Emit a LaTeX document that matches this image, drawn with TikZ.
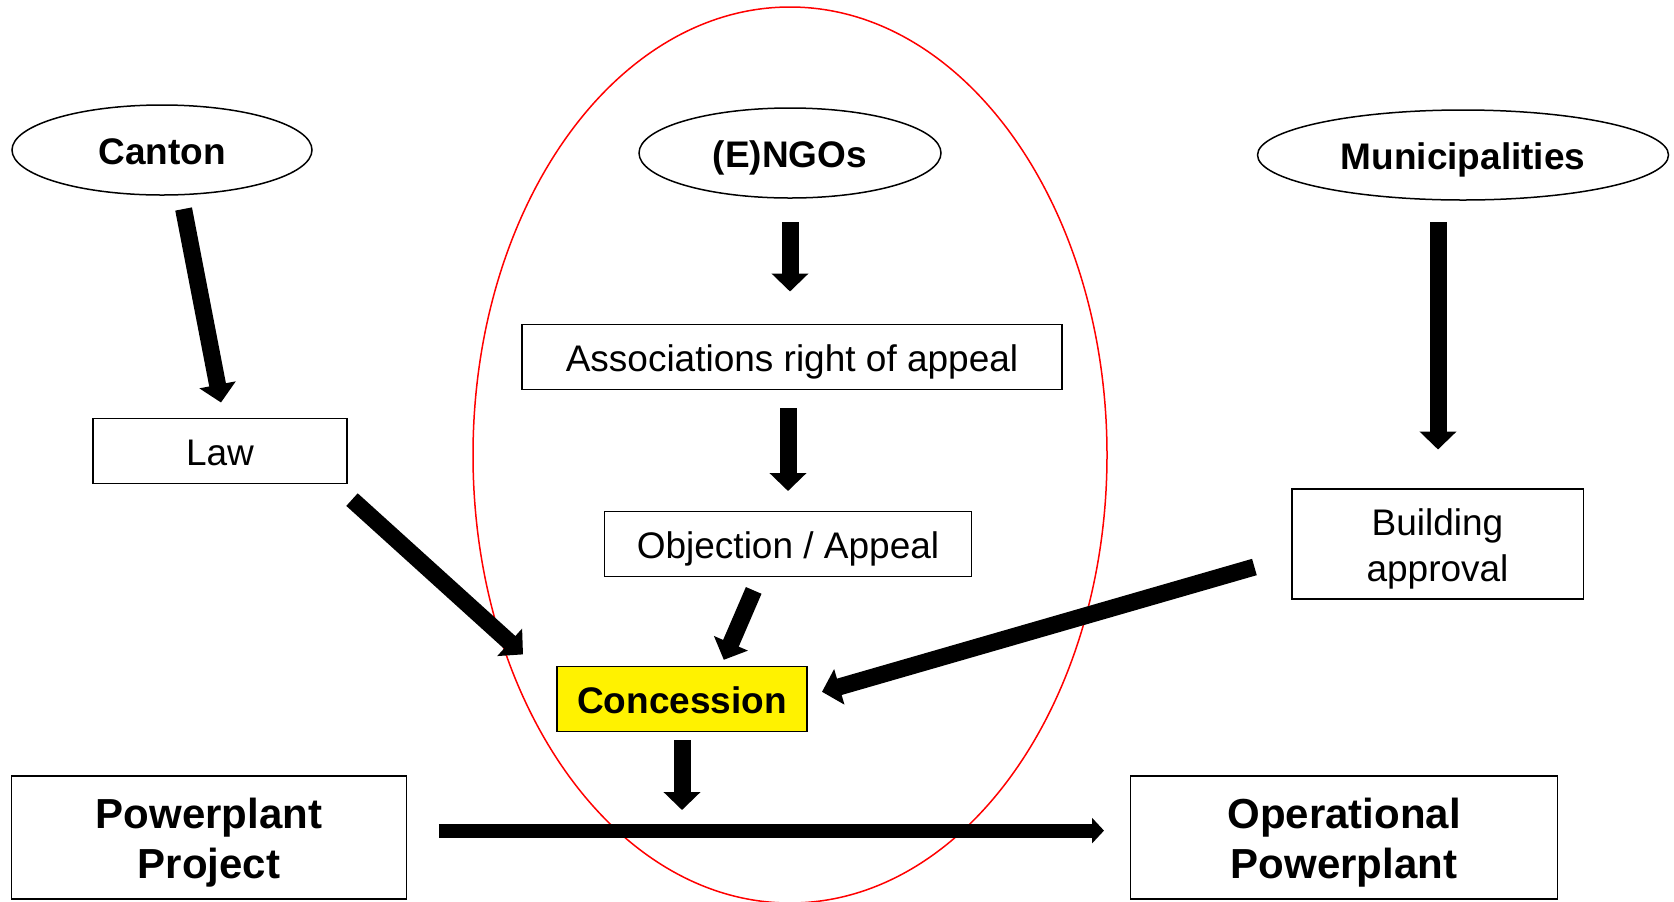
\documentclass[tikz,border=0pt]{standalone}
\usepackage{fontspec}
\setmainfont{Liberation Sans}
\usetikzlibrary{shapes.geometric,arrows.meta}
\tikzset{
  actor/.style={ellipse, draw, line width=0.75pt, inner sep=0pt, text height=14pt, text depth=0pt, font=\fontsize{18.5}{22.4}\selectfont\bfseries},
  box/.style={rectangle, draw, line width=0.75pt, inner sep=0pt, align=center, minimum height=32.5pt, text height=14pt, text depth=0pt, font=\fontsize{18.5}{23}\selectfont},
  bigbox/.style={rectangle, draw, line width=0.75pt, inner sep=0pt, align=center, minimum height=61.5pt, text height=40.5pt, text depth=0pt, font=\fontsize{21}{25}\selectfont\bfseries},
  blockarrow/.style={line width=8.5pt, -{Triangle[width=18pt,length=9pt]}},
  mainarrow/.style={line width=7pt, -{Triangle[width=12.5pt,length=6pt]}}
}
\begin{document}
\begin{tikzpicture}[x=0.5pt,y=-0.5pt]
\useasboundingbox (0,0) rectangle (1674,901);
% red zone
\node[ellipse, draw=red, line width=0.75pt, minimum width=317pt, minimum height=448pt] (zone) at (790,455) {};
% actors
\node[actor, minimum width=150pt, minimum height=45pt] (canton) at (162,150) {Canton};
\node[actor, minimum width=151pt, minimum height=45pt] (ngos) at (790,153) {(E)NGOs};
\node[actor, minimum width=205.5pt, minimum height=45pt] (muni) at (1463,155) {Municipalities};
% boxes
\node[box, minimum width=127pt] (law) at (220,451) {Law};
\node[box, minimum width=270pt] (assoc) at (792,357) {Associations right of appeal};
\node[box, minimum width=183.5pt] (obj) at (788,544) {Objection / Appeal};
\node[box, minimum width=125pt, fill=yellow, font=\fontsize{18.5}{22.4}\selectfont\bfseries] (conc) at (682,699) {Concession};
\node[box, minimum width=145.75pt, minimum height=55pt, text height=37pt] (build) at (1437.5,544) {Building\\approval};
\node[bigbox, minimum width=197.5pt] (project) at (209,837.5) {Powerplant\\Project};
\node[bigbox, minimum width=213.5pt] (oper) at (1344,837.5) {Operational\\Powerplant};
% arrow end points
\coordinate (a1s) at (183.6,209);  \coordinate (a1e) at (221,402.5);
\coordinate (a2s) at (790,222);    \coordinate (a2e) at (790,291.5);
\coordinate (a3s) at (788,408);    \coordinate (a3e) at (788,491);
\coordinate (a4s) at (753.7,590.4); \coordinate (a4e) at (723.8,659.8);
\coordinate (a5s) at (352,499.6);  \coordinate (a5e) at (523,654.4);
\coordinate (a6s) at (1438,222);   \coordinate (a6e) at (1438,449.5);
\coordinate (a7s) at (1254.4,567); \coordinate (a7e) at (822,691.8);
\coordinate (a8s) at (682,740);    \coordinate (a8e) at (682,810);
\coordinate (a9s) at (438.8,830.6); \coordinate (a9e) at (1104,830.6);
% arrows
\draw[blockarrow] (a1s) -- (a1e);
\draw[blockarrow] (a2s) -- (a2e);
\draw[blockarrow] (a3s) -- (a3e);
\draw[blockarrow] (a4s) -- (a4e);
\draw[blockarrow] (a5s) -- (a5e);
\draw[blockarrow] (a6s) -- (a6e);
\draw[blockarrow] (a7s) -- (a7e);
\draw[blockarrow] (a8s) -- (a8e);
\draw[mainarrow] (a9s) -- (a9e);
\end{tikzpicture}
\end{document}
